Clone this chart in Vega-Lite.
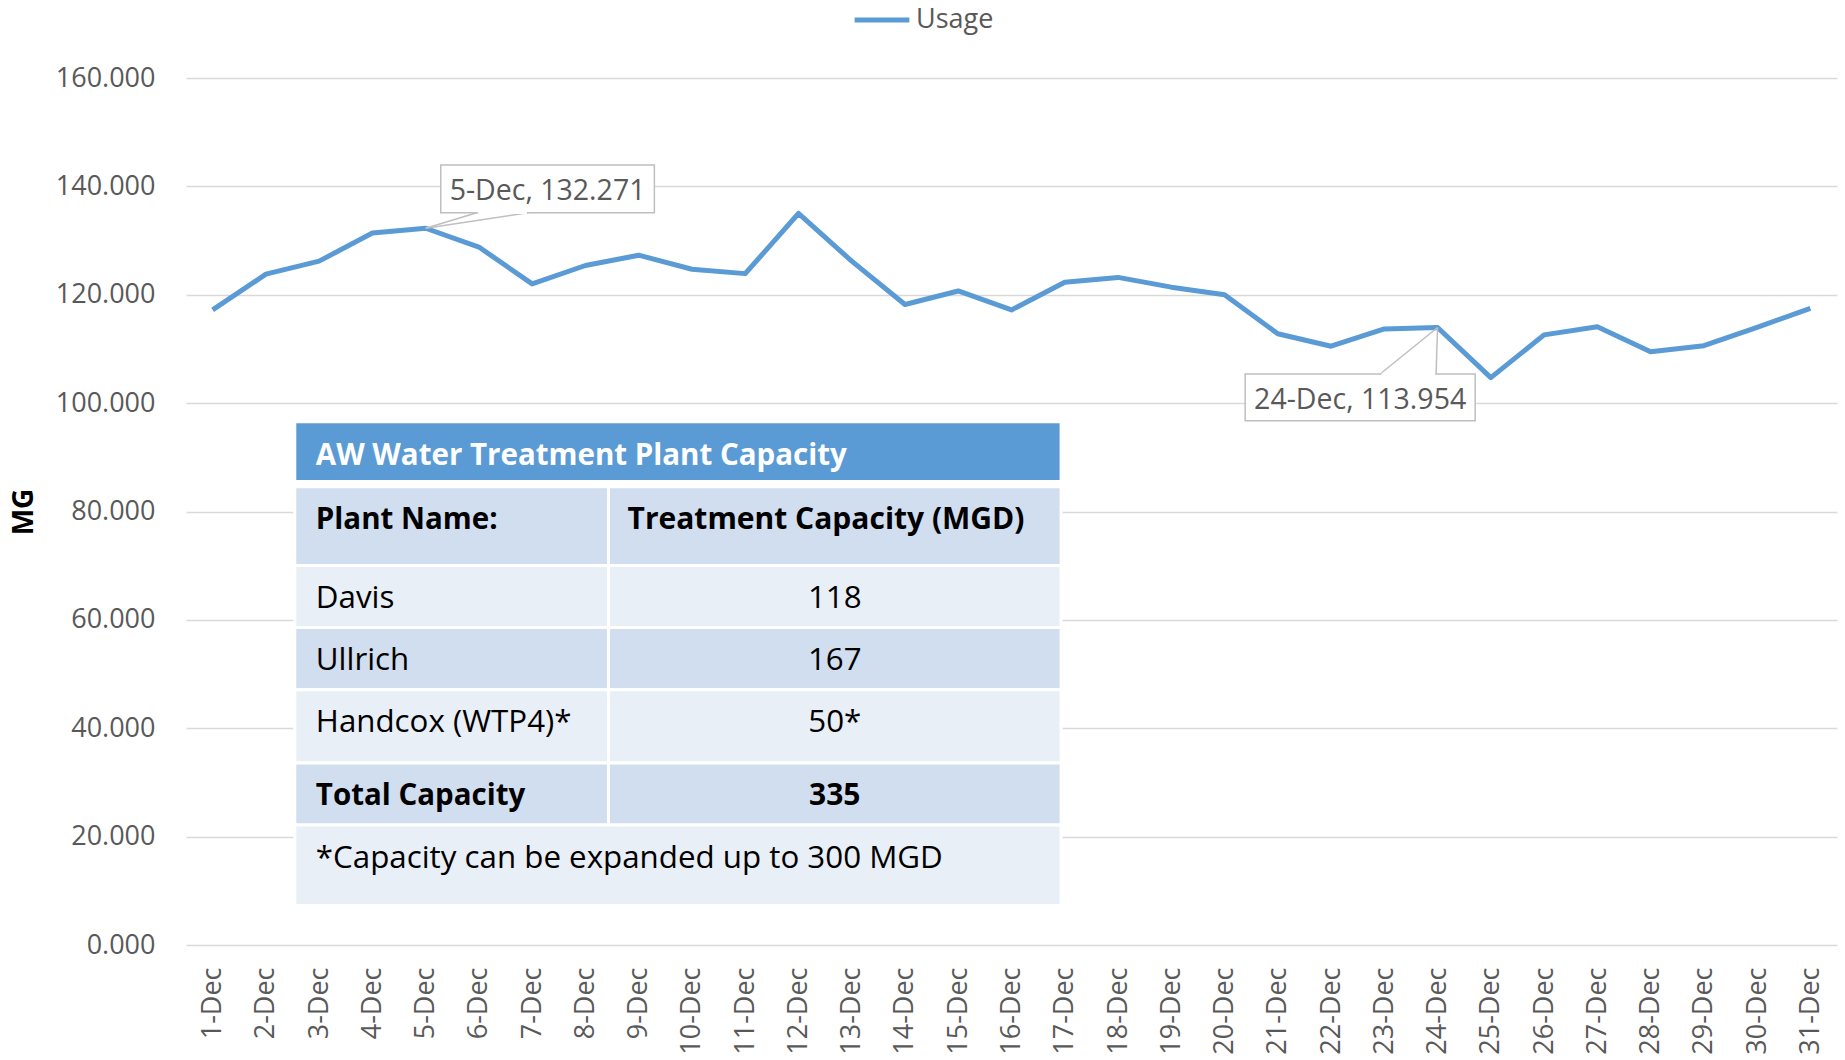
{
  "$schema": "https://vega.github.io/schema/vega-lite/v6.json",
  "width": 1651,
  "height": 867,
  "autosize": {"type": "none"},
  "padding": {"left": 186, "top": 78, "right": 8, "bottom": 115},
  "background": "white",
  "config": {"font": "Open Sans", "view": {"stroke": null}},
  "datasets": {
    "usage": [
      {"day": "1-Dec", "usage": 117.2, "series": "Usage"},
      {"day": "2-Dec", "usage": 123.8, "series": "Usage"},
      {"day": "3-Dec", "usage": 126.2, "series": "Usage"},
      {"day": "4-Dec", "usage": 131.4, "series": "Usage"},
      {"day": "5-Dec", "usage": 132.271, "series": "Usage"},
      {"day": "6-Dec", "usage": 128.8, "series": "Usage"},
      {"day": "7-Dec", "usage": 122.0, "series": "Usage"},
      {"day": "8-Dec", "usage": 125.4, "series": "Usage"},
      {"day": "9-Dec", "usage": 127.3, "series": "Usage"},
      {"day": "10-Dec", "usage": 124.7, "series": "Usage"},
      {"day": "11-Dec", "usage": 123.9, "series": "Usage"},
      {"day": "12-Dec", "usage": 135.0, "series": "Usage"},
      {"day": "13-Dec", "usage": 126.2, "series": "Usage"},
      {"day": "14-Dec", "usage": 118.2, "series": "Usage"},
      {"day": "15-Dec", "usage": 120.7, "series": "Usage"},
      {"day": "16-Dec", "usage": 117.2, "series": "Usage"},
      {"day": "17-Dec", "usage": 122.3, "series": "Usage"},
      {"day": "18-Dec", "usage": 123.2, "series": "Usage"},
      {"day": "19-Dec", "usage": 121.4, "series": "Usage"},
      {"day": "20-Dec", "usage": 120.0, "series": "Usage"},
      {"day": "21-Dec", "usage": 112.8, "series": "Usage"},
      {"day": "22-Dec", "usage": 110.5, "series": "Usage"},
      {"day": "23-Dec", "usage": 113.7, "series": "Usage"},
      {"day": "24-Dec", "usage": 113.954, "series": "Usage"},
      {"day": "25-Dec", "usage": 104.7, "series": "Usage"},
      {"day": "26-Dec", "usage": 112.6, "series": "Usage"},
      {"day": "27-Dec", "usage": 114.1, "series": "Usage"},
      {"day": "28-Dec", "usage": 109.5, "series": "Usage"},
      {"day": "29-Dec", "usage": 110.6, "series": "Usage"},
      {"day": "30-Dec", "usage": 114.0, "series": "Usage"},
      {"day": "31-Dec", "usage": 117.5, "series": "Usage"}
    ],
    "callouts": [
      {"day": "5-Dec", "usage": 132.271, "label": "5-Dec, 132.271"},
      {"day": "24-Dec", "usage": 113.954, "label": "24-Dec, 113.954"}
    ],
    "table": [
      {"r0": 0, "r1": 1, "c0": 0, "c1": 2, "kind": "title", "text": "AW Water Treatment Plant Capacity"},
      {"r0": 2, "r1": 3, "c0": 0, "c1": 1, "kind": "header", "text": "Plant Name:"},
      {"r0": 2, "r1": 3, "c0": 1, "c1": 2, "kind": "header", "text": "Treatment Capacity (MGD)"},
      {"r0": 3, "r1": 4, "c0": 0, "c1": 1, "kind": "plant", "text": "Davis"},
      {"r0": 3, "r1": 4, "c0": 1, "c1": 2, "kind": "plant", "text": "118"},
      {"r0": 4, "r1": 5, "c0": 0, "c1": 1, "kind": "plant", "text": "Ullrich"},
      {"r0": 4, "r1": 5, "c0": 1, "c1": 2, "kind": "plant", "text": "167"},
      {"r0": 5, "r1": 6, "c0": 0, "c1": 1, "kind": "plant", "text": "Handcox (WTP4)*"},
      {"r0": 5, "r1": 6, "c0": 1, "c1": 2, "kind": "plant", "text": "50*"},
      {"r0": 6, "r1": 7, "c0": 0, "c1": 1, "kind": "total", "text": "Total Capacity"},
      {"r0": 6, "r1": 7, "c0": 1, "c1": 2, "kind": "total", "text": "335"},
      {"r0": 7, "r1": 8, "c0": 0, "c1": 2, "kind": "note", "text": "*Capacity can be expanded up to 300 MGD"}
    ]
  },
  "layer": [
    {
      "layer": [
        {
          "data": {"name": "usage"},
          "mark": {"type": "line", "strokeWidth": 5, "strokeJoin": "round"},
          "encoding": {
            "x": {
              "field": "day", "type": "nominal", "sort": null,
              "scale": {"type": "point", "padding": 0.5, "domain": ["1-Dec","2-Dec","3-Dec","4-Dec","5-Dec","6-Dec","7-Dec","8-Dec","9-Dec","10-Dec","11-Dec","12-Dec","13-Dec","14-Dec","15-Dec","16-Dec","17-Dec","18-Dec","19-Dec","20-Dec","21-Dec","22-Dec","23-Dec","24-Dec","25-Dec","26-Dec","27-Dec","28-Dec","29-Dec","30-Dec","31-Dec"]},
              "axis": {"title": null, "labelAngle": -90, "labelFontSize": 27, "labelColor": "#595959", "labelPadding": 22, "ticks": false, "domain": false, "grid": false}
            },
            "y": {
              "field": "usage", "type": "quantitative",
              "scale": {"domain": [0, 160], "nice": false, "zero": true},
              "axis": {"title": "MG", "titleFontSize": 28, "titleFontWeight": "bold", "titleColor": "#000000", "titlePadding": 17, "values": [0, 20, 40, 60, 80, 100, 120, 140, 160], "format": ".3f", "labelFontSize": 27, "labelColor": "#595959", "labelPadding": 31, "ticks": false, "domain": false, "grid": true, "gridColor": "#D9D9D9", "gridWidth": 1.5}
            },
            "color": {
              "field": "series", "type": "nominal",
              "scale": {"domain": ["Usage"], "range": ["#5B9BD5"]},
              "legend": {"title": null, "orient": "none", "legendX": 666, "legendY": -88, "symbolType": "stroke", "symbolSize": 3000, "symbolStrokeWidth": 5, "labelFontSize": 27, "labelColor": "#595959", "labelOffset": 4}
            }
          }
        },
        {
          "data": {"name": "callouts"},
          "transform": [{"filter": "datum.day == '5-Dec'"}],
          "layer": [
            {
              "mark": {"type": "rect", "fill": "white", "stroke": "#BFBFBF", "strokeWidth": 1.5, "xOffset": 15.1, "x2Offset": 228.7, "yOffset": -63.25, "y2Offset": -15.5},
              "encoding": {"x": {"field": "day", "type": "nominal", "sort": null}, "x2": {"field": "day"}, "y": {"field": "usage", "type": "quantitative"}, "y2": {"field": "usage"}}
            },
            {
              "mark": {"type": "rule", "stroke": "#BFBFBF", "strokeWidth": 1.5, "x2Offset": 51.1, "y2Offset": -15.5},
              "encoding": {"x": {"field": "day", "type": "nominal", "sort": null}, "x2": {"field": "day"}, "y": {"field": "usage", "type": "quantitative"}, "y2": {"field": "usage"}}
            },
            {
              "mark": {"type": "rule", "stroke": "#BFBFBF", "strokeWidth": 1.5, "x2Offset": 102.7, "y2Offset": -15.5},
              "encoding": {"x": {"field": "day", "type": "nominal", "sort": null}, "x2": {"field": "day"}, "y": {"field": "usage", "type": "quantitative"}, "y2": {"field": "usage"}}
            },
            {
              "mark": {"type": "rule", "stroke": "white", "strokeWidth": 2.5, "xOffset": 52.5, "x2Offset": 101.3, "yOffset": -15.5, "y2Offset": -15.5},
              "encoding": {"x": {"field": "day", "type": "nominal", "sort": null}, "x2": {"field": "day"}, "y": {"field": "usage", "type": "quantitative"}, "y2": {"field": "usage"}}
            },
            {
              "mark": {"type": "text", "fontSize": 28.5, "color": "#595959", "align": "center", "baseline": "middle", "dx": 121.9, "dy": -37.4},
              "encoding": {"x": {"field": "day", "type": "nominal", "sort": null}, "y": {"field": "usage", "type": "quantitative"}, "text": {"field": "label"}}
            }
          ]
        },
        {
          "data": {"name": "callouts"},
          "transform": [{"filter": "datum.day == '24-Dec'"}],
          "layer": [
            {
              "mark": {"type": "rect", "fill": "white", "stroke": "#BFBFBF", "strokeWidth": 1.5, "xOffset": -192.4, "x2Offset": 37.6, "yOffset": 46.5, "y2Offset": 93.2},
              "encoding": {"x": {"field": "day", "type": "nominal", "sort": null}, "x2": {"field": "day"}, "y": {"field": "usage", "type": "quantitative"}, "y2": {"field": "usage"}}
            },
            {
              "mark": {"type": "rule", "stroke": "#BFBFBF", "strokeWidth": 1.5, "x2Offset": -57.4, "y2Offset": 46.5},
              "encoding": {"x": {"field": "day", "type": "nominal", "sort": null}, "x2": {"field": "day"}, "y": {"field": "usage", "type": "quantitative"}, "y2": {"field": "usage"}}
            },
            {
              "mark": {"type": "rule", "stroke": "#BFBFBF", "strokeWidth": 1.5, "x2Offset": -1.5, "y2Offset": 46.5},
              "encoding": {"x": {"field": "day", "type": "nominal", "sort": null}, "x2": {"field": "day"}, "y": {"field": "usage", "type": "quantitative"}, "y2": {"field": "usage"}}
            },
            {
              "mark": {"type": "rule", "stroke": "white", "strokeWidth": 2.5, "xOffset": -56, "x2Offset": -2.5, "yOffset": 46.5, "y2Offset": 46.5},
              "encoding": {"x": {"field": "day", "type": "nominal", "sort": null}, "x2": {"field": "day"}, "y": {"field": "usage", "type": "quantitative"}, "y2": {"field": "usage"}}
            },
            {
              "mark": {"type": "text", "fontSize": 28.5, "color": "#595959", "align": "center", "baseline": "middle", "dx": -77.4, "dy": 72.9},
              "encoding": {"x": {"field": "day", "type": "nominal", "sort": null}, "y": {"field": "usage", "type": "quantitative"}, "text": {"field": "label"}}
            }
          ]
        }
      ]
    },
    {
      "data": {"name": "table"},
      "encoding": {
        "x": {"field": "c0", "type": "quantitative", "scale": {"domain": [0, 1, 2], "range": [108.8, 422.5, 875.1], "zero": false, "nice": false}, "axis": null},
        "y": {"field": "r0", "type": "quantitative", "scale": {"domain": [0, 1, 2, 3, 4, 5, 6, 7, 8], "range": [343.8, 403.5, 408.8, 487.4, 549.5, 611.7, 684.9, 747, 827.5], "zero": false, "nice": false}, "axis": null}
      },
      "layer": [
        {
          "mark": {"type": "rect", "stroke": "white", "strokeWidth": 3},
          "encoding": {
            "x2": {"field": "c1"},
            "y2": {"field": "r1"},
            "fill": {"field": "r0", "type": "nominal", "scale": {"domain": [0, 2, 3, 4, 5, 6, 7], "range": ["#5B9BD5", "#D0DEEF", "#E9EFF7", "#D0DEEF", "#E9EFF7", "#D0DEEF", "#E9EFF7"]}, "legend": null}
          }
        },
        {
          "transform": [{"filter": "datum.kind == 'title'"}],
          "mark": {"type": "text", "fontSize": 29.5, "fontWeight": "bold", "color": "white", "align": "left", "baseline": "middle", "dx": 21, "dy": 34},
          "encoding": {"text": {"field": "text"}}
        },
        {
          "transform": [{"filter": "(datum.kind == 'header' || datum.kind == 'total') && datum.c0 == 0"}],
          "mark": {"type": "text", "fontSize": 29.5, "fontWeight": "bold", "color": "black", "align": "left", "baseline": "middle", "dx": 21, "dy": 33.5},
          "encoding": {"text": {"field": "text"}}
        },
        {
          "transform": [{"filter": "datum.kind == 'header' && datum.c0 == 1"}],
          "mark": {"type": "text", "fontSize": 30, "fontWeight": "bold", "color": "black", "align": "center", "baseline": "middle", "dx": 217.5, "dy": 33.5},
          "encoding": {"text": {"field": "text"}}
        },
        {
          "transform": [{"filter": "datum.kind == 'total' && datum.c0 == 1"}],
          "mark": {"type": "text", "fontSize": 30, "fontWeight": "bold", "color": "black", "align": "center", "baseline": "middle", "dx": 226.3, "dy": 33.5},
          "encoding": {"text": {"field": "text"}}
        },
        {
          "transform": [{"filter": "(datum.kind == 'plant' && datum.c0 == 0) || datum.kind == 'note'"}],
          "mark": {"type": "text", "fontSize": 31.3, "color": "black", "align": "left", "baseline": "middle", "dx": 21, "dy": 33.5},
          "encoding": {"text": {"field": "text"}}
        },
        {
          "transform": [{"filter": "datum.kind == 'plant' && datum.c0 == 1"}],
          "mark": {"type": "text", "fontSize": 31.3, "color": "black", "align": "center", "baseline": "middle", "dx": 226.3, "dy": 33.5},
          "encoding": {"text": {"field": "text"}}
        }
      ]
    }
  ],
  "resolve": {"scale": {"x": "independent", "y": "independent"}}
}
